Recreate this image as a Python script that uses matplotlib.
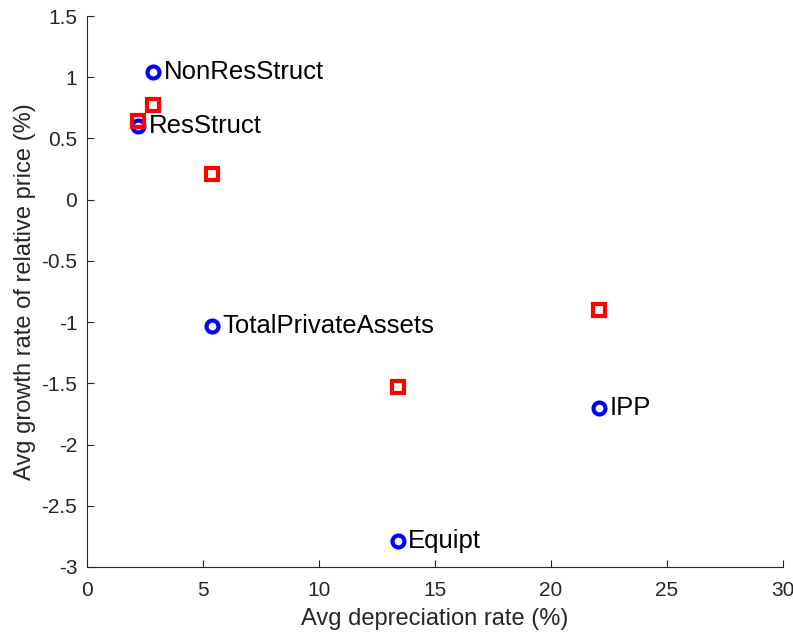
import matplotlib
matplotlib.use("Agg")
import matplotlib.pyplot as plt

plt.rcParams['font.family'] = ['Liberation Sans', 'DejaVu Sans']

assets = ["ResStruct", "NonResStruct", "TotalPrivateAssets", "Equipt", "IPP"]
depreciation = [2.2, 2.85, 5.4, 13.4, 22.1]
growth_circle = [0.60, 1.04, -1.03, -2.79, -1.70]
growth_square = [0.64, 0.77, 0.21, -1.53, -0.90]

fig = plt.figure(figsize=(7.93, 6.33), dpi=100)
ax = fig.add_axes([0.1097, 0.1043, 0.8773, 0.8704])

ax.plot(depreciation, growth_circle, linestyle='none', marker='o', markersize=8.6,
        markerfacecolor='none', markeredgecolor='#0000ff', markeredgewidth=3.0, zorder=3)
ax.plot(depreciation, growth_square, linestyle='none', marker='s', markersize=8.2,
        markerfacecolor='none', markeredgecolor='#ff0000', markeredgewidth=3.0, zorder=4)

for name, x, y in zip(assets, depreciation, growth_circle):
    ax.annotate(name, (x, y), xytext=(7.5, 0), textcoords='offset points',
                ha='left', va='center', fontsize=18.5, color='black')

ax.set_xlim(0, 30)
ax.set_ylim(-3, 1.5)
ax.set_xticks(range(0, 31, 5))
ax.set_yticks([-3, -2.5, -2, -1.5, -1, -0.5, 0, 0.5, 1, 1.5])
ax.set_yticklabels(['-3', '-2.5', '-2', '-1.5', '-1', '-0.5', '0', '0.5', '1', '1.5'])

for s in ['top', 'right']:
    ax.spines[s].set_visible(False)
for s in ['left', 'bottom']:
    ax.spines[s].set_color('#262626')
    ax.spines[s].set_linewidth(0.8)

ax.tick_params(direction='in', length=5, width=0.8, colors='#262626', labelsize=15)
ax.tick_params(axis='x', pad=10)
ax.tick_params(axis='y', pad=7)
ax.set_xlabel('Avg depreciation rate (%)', fontsize=17, color='#262626', labelpad=6)
ax.set_ylabel('Avg growth rate of relative price (%)', fontsize=17, color='#262626', labelpad=4)

fig.savefig('out.png', dpi=100)
